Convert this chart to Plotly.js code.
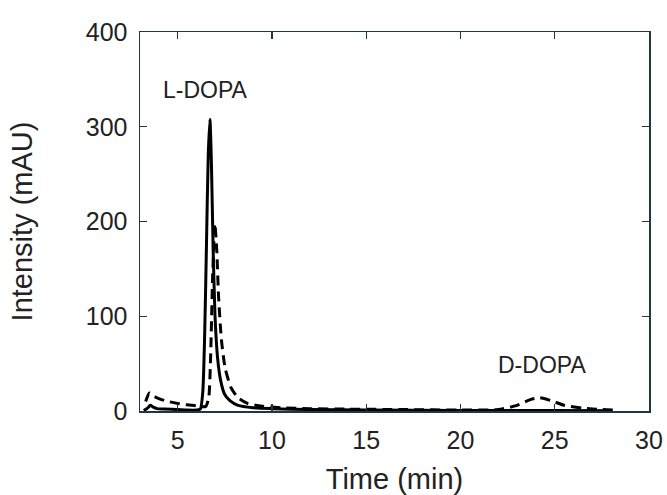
<!DOCTYPE html>
<html>
<head>
<meta charset="utf-8">
<script src="https://cdn.plot.ly/plotly-3.0.1.min.js"></script>
<style>html,body{margin:0;padding:0;background:#fff;}#chart{width:667px;height:495px;}</style>
</head>
<body>
<div id="chart"></div>
<script>
// Solid trace (L-DOPA sample)
const solidTime = [3.2, 3.4, 3.55, 3.7, 3.9, 4.3, 5.0, 5.5, 6.0, 6.2, 6.33, 6.43, 6.53, 6.62, 6.71, 6.79, 6.88, 6.98, 7.12, 7.28, 7.48, 7.77, 8.2, 9.0, 10.0, 12.0, 15.0, 20.0, 25.0, 28.0];
const solidIntensity = [0.5, 3, 6, 4, 2.5, 2, 1.5, 1, 1, 2, 20, 80, 180, 270, 308, 260, 170, 100, 55, 32, 18, 11, 6, 3.5, 2.5, 1.5, 1, 0.5, 0.5, 0.3];
// Dashed trace (racemic)
const dashTime = [3.3, 3.5, 3.7, 4.0, 4.5, 5.0, 5.5, 6.0, 6.3, 6.5, 6.65, 6.75, 6.85, 6.97, 7.07, 7.17, 7.32, 7.52, 7.82, 8.2, 8.7, 9.5, 10.5, 12.0, 14.0, 17.0, 20.0, 22.0, 23.0, 23.7, 24.2, 24.8, 25.5, 26.5, 27.5, 28.3];
const dashIntensity = [10, 19, 16, 13, 10, 8, 6.5, 5.5, 4.5, 5, 15, 60, 140, 198, 170, 120, 75, 45, 25, 14, 8, 5, 3.5, 2.5, 2, 1.5, 1, 1.5, 6, 12, 14, 11, 6, 3, 1.5, 1];
const xTicks = [5, 10, 15, 20, 25, 30];
const yTicks = [0, 100, 200, 300, 400];
const peakLabels = ["L-DOPA", "D-DOPA"];
const labelX = [6.45, 24.3];
const labelY = [339, 49];

const font = "Liberation Sans, Arial, sans-serif";
const axisColor = "#1e3646";

const traces = [
  {x: solidTime, y: solidIntensity, mode: "lines", line: {color: "#000", width: 3, shape: "spline", smoothing: 0.6}, hoverinfo: "skip"},
  {x: dashTime, y: dashIntensity, mode: "lines", line: {color: "#000", width: 3, dash: "10px,6px", shape: "spline", smoothing: 0.6}, hoverinfo: "skip"}
];

const axisCommon = {
  showgrid: false, zeroline: false, showline: true, linecolor: axisColor, linewidth: 1.5,
  mirror: "ticks", ticks: "inside", ticklen: 7, tickwidth: 1.2, tickcolor: axisColor,
  tickfont: {family: font, size: 25, color: "#222"}
};

const layout = {
  width: 667, height: 495,
  margin: {l: 140, r: 18, t: 32, b: 84},
  paper_bgcolor: "#fff", plot_bgcolor: "#fff",
  showlegend: false,
  xaxis: Object.assign({}, axisCommon, {
    range: [3, 30], tickvals: xTicks, ticktext: xTicks.map(String), ticklabelstandoff: 6,
    title: {text: "Time (min)", font: {family: font, size: 29, color: "#222"}}
  }),
  yaxis: Object.assign({}, axisCommon, {
    range: [0, 400], tickvals: yTicks, ticktext: yTicks.map(String), ticklabelstandoff: 6,
    automargin: true,
    title: {text: "Intensity (mAU)", font: {family: font, size: 29, color: "#222"}, standoff: 44}
  }),
  annotations: peakLabels.map((t, i) => ({
    x: labelX[i], y: labelY[i], xref: "x", yref: "y", text: t, showarrow: false,
    font: {family: font, size: 23, color: "#222"}
  }))
};

Plotly.newPlot("chart", traces, layout, {staticPlot: true, displayModeBar: false});
</script>
</body>
</html>
